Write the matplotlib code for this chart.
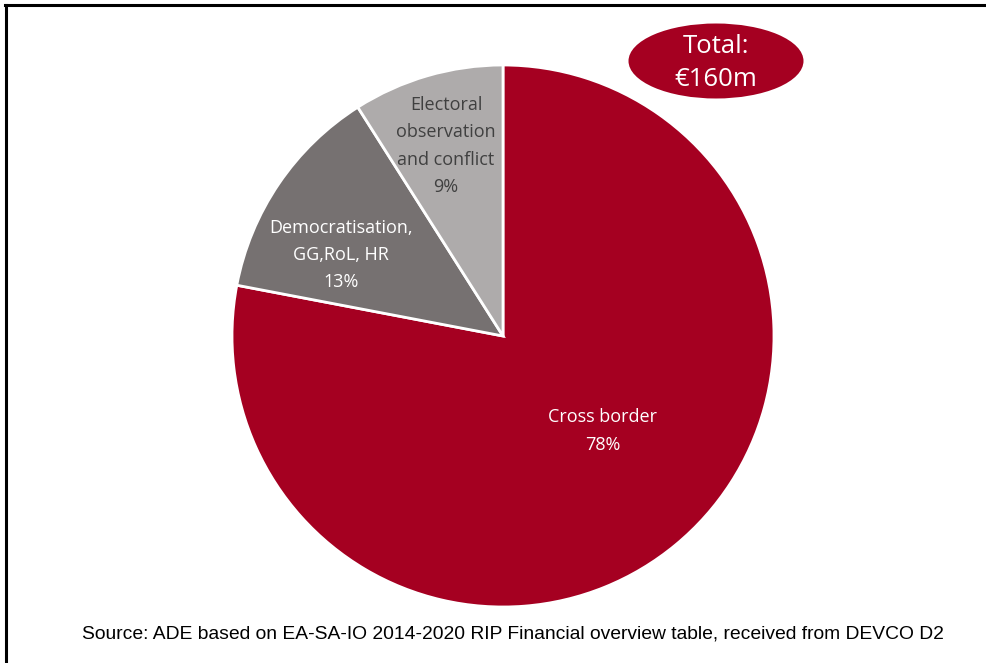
import matplotlib
matplotlib.use("Agg")
import matplotlib.pyplot as plt
from matplotlib.patches import Ellipse
from matplotlib.lines import Line2D

categories = ["Cross border", "Democratisation,\nGG,RoL, HR", "Electoral\nobservation\nand conflict"]
shares = [78, 13, 9]
colors = ["#A50021", "#767171", "#AEABAB"]
text_colors = ["white", "white", "#404040"]
label_pos = [(603, 663 - 431), (341, 663 - 255), (446, 663 - 146)]
total_text = "Total:\n€160m"
source_text = "Source: ADE based on EA-SA-IO 2014-2020 RIP Financial overview table, received from DEVCO D2"

W, H = 987, 663
fig = plt.figure(figsize=(W / 100, H / 100), dpi=100)
ax = fig.add_axes([0, 0, 1, 1])

cx, cy, r = 503, H - 336, 271
ax.pie(shares, colors=colors, startangle=90, counterclock=False,
       center=(cx, cy), radius=r, frame=True,
       wedgeprops=dict(edgecolor="white", linewidth=2))
ax.set_xlim(0, W)
ax.set_ylim(0, H)
ax.set_aspect("auto")
ax.axis("off")

font = ["Open Sans", "DejaVu Sans"]
for cat, s, tc, (x, y) in zip(categories, shares, text_colors, label_pos):
    ax.text(x, y, f"{cat}\n{s}%", ha="center", va="center", color=tc,
            fontsize=13.0, family=font, linespacing=1.66)

ax.add_patch(Ellipse((716, H - 61), 175, 75, facecolor="#A50021", edgecolor="none"))
ax.text(716, H - 63, total_text, ha="center", va="center", color="white",
        fontsize=18.5, family=font, linespacing=1.45)

ax.text(513, H - 634, source_text, ha="center", va="center", color="black",
        fontsize=13.9, family=["Liberation Sans", "DejaVu Sans"])

fig.add_artist(Line2D([5 / W, 1], [1 - 5 / H, 1 - 5 / H], color="black", lw=2.2))
fig.add_artist(Line2D([6 / W, 6 / W], [0, 1 - 5 / H], color="black", lw=2.2))

fig.savefig("out.png", dpi=100)
